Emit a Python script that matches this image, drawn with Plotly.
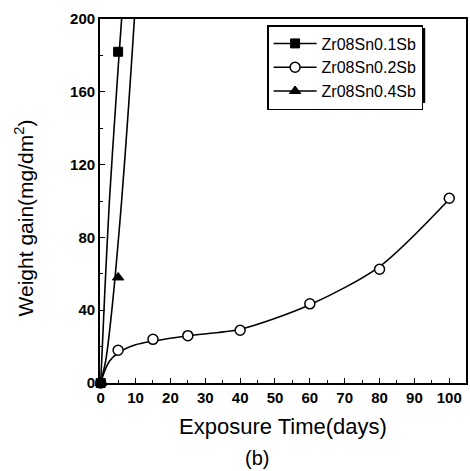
import plotly.graph_objects as go

# ---- data ----
series_names = ["Zr08Sn0.1Sb", "Zr08Sn0.2Sb", "Zr08Sn0.4Sb"]

# measured points
days_01 = [0, 5]
gain_01 = [0, 182]

days_02 = [0, 5, 15, 25, 40, 60, 80, 100]
gain_02 = [0, 18, 24, 26, 29, 43.5, 62.5, 101.5]

days_04 = [0, 5]
gain_04 = [0, 58]

# fitted curves
fit_days_01 = [0, 1.2, 2.5, 4.3, 6.0, 7.0]
fit_gain_01 = [0, 51, 100, 153, 200, 222]

fit_days_02 = [0, 1, 2.5, 5, 10, 15, 25, 40, 60, 80, 100]
fit_gain_02 = [0, 6, 12, 16.5, 21, 23, 26, 29.5, 43, 64, 101]

fit_days_04 = [0, 1.5, 3.3, 6.0, 8.0, 9.6, 10.5]
fit_gain_04 = [0, 13, 42, 100, 152, 198, 226]

x_ticks = list(range(0, 101, 10))
y_ticks = [0, 40, 80, 120, 160, 200]

x_title = "Exposure Time(days)"
y_title = "Weight gain(mg/dm<sup>2</sup>)"
panel_label = "(b)"

font_family = "Liberation Sans, Arial, sans-serif"

# plot-area geometry in pixels
W, H = 470, 471
ML, MR, MT, MB = 100, 2, 19, 88
PW, PH = W - ML - MR, H - MT - MB


def px_to_paper_x(px):
    return (px - ML) / PW


def px_to_paper_y(py):
    return (H - MB - py) / PH


fig = go.Figure()

# fitted lines
for fx, fy in [(fit_days_01, fit_gain_01), (fit_days_02, fit_gain_02), (fit_days_04, fit_gain_04)]:
    fig.add_trace(go.Scatter(
        x=fx, y=fy, mode="lines",
        line=dict(color="black", width=1.6, shape="spline", smoothing=0.8),
        showlegend=False, hoverinfo="skip"))

marker_styles = [
    dict(symbol="square", size=9, color="black", line=dict(color="black", width=1)),
    dict(symbol="circle", size=10, color="white", line=dict(color="black", width=1.5)),
    dict(symbol="triangle-up", size=10, color="black", line=dict(color="black", width=1)),
]

# measured points (draw 0.2 first, then 0.4, then 0.1 on top)
data_sets = [(days_01, gain_01), (days_02, gain_02), (days_04, gain_04)]
for idx in [1, 2, 0]:
    dx, dy = data_sets[idx]
    fig.add_trace(go.Scatter(
        x=dx, y=dy, mode="markers", marker=marker_styles[idx],
        cliponaxis=False, showlegend=False))

# legend entries
for idx in range(3):
    fig.add_trace(go.Scatter(
        x=[None], y=[None], mode="lines+markers", name=series_names[idx],
        marker=marker_styles[idx], line=dict(color="black", width=1.5)))

legend_left_px, legend_top_px = 268, 25
legend_right_px, legend_bottom_px = 424, 100
shadow = 3

fig.update_layout(
    width=W, height=H,
    margin=dict(l=ML, r=MR, t=MT, b=MB),
    paper_bgcolor="white", plot_bgcolor="white",
    font=dict(family=font_family, color="black"),
    showlegend=True,
    legend=dict(
        x=px_to_paper_x(legend_left_px), y=px_to_paper_y(legend_top_px),
        xanchor="left", yanchor="top",
        bgcolor="white", bordercolor="black", borderwidth=1.5,
        font=dict(family=font_family, size=16, color="black"),
        tracegroupgap=0, itemwidth=43),
    xaxis=dict(
        range=[-0.2, 104.8], tickvals=x_ticks, ticktext=[str(v) for v in x_ticks],
        ticks="inside", ticklen=5, tickwidth=1.2, tickcolor="black",
        minor=dict(dtick=5, ticks="inside", ticklen=3, tickcolor="black", tickwidth=1),
        showline=True, linecolor="black", linewidth=1.8, mirror=True,
        showgrid=False, zeroline=False,
        tickfont=dict(family=font_family, size=15, weight="bold"),
        title=dict(text=x_title, font=dict(family=font_family, size=22), standoff=14),
    ),
    yaxis=dict(
        range=[0, 200], tickvals=y_ticks, ticktext=[str(v) for v in y_ticks],
        ticks="inside", ticklen=5, tickwidth=1.2, tickcolor="black",
        minor=dict(dtick=20, ticks="inside", ticklen=3, tickcolor="black", tickwidth=1),
        showline=True, linecolor="black", linewidth=1.8, mirror=True,
        showgrid=False, zeroline=False,
        tickfont=dict(family=font_family, size=15, weight="bold"),
    ),
    annotations=[
        dict(text=y_title, x=px_to_paper_x(24), y=px_to_paper_y(218),
             xref="paper", yref="paper", xanchor="center", yanchor="middle",
             textangle=-90, showarrow=False,
             font=dict(family=font_family, size=21, color="black")),
        dict(text=panel_label, x=0.43, y=px_to_paper_y(458), xref="paper", yref="paper",
             xanchor="center", yanchor="middle", showarrow=False,
             font=dict(family=font_family, size=20, color="black")),
    ],
    shapes=[dict(
        type="rect", xref="paper", yref="paper",
        x0=px_to_paper_x(legend_left_px + shadow), x1=px_to_paper_x(legend_right_px + shadow),
        y0=px_to_paper_y(legend_bottom_px + shadow), y1=px_to_paper_y(legend_top_px + shadow),
        fillcolor="black", line=dict(width=0), layer="above")],
)

fig.write_html("out.html")
